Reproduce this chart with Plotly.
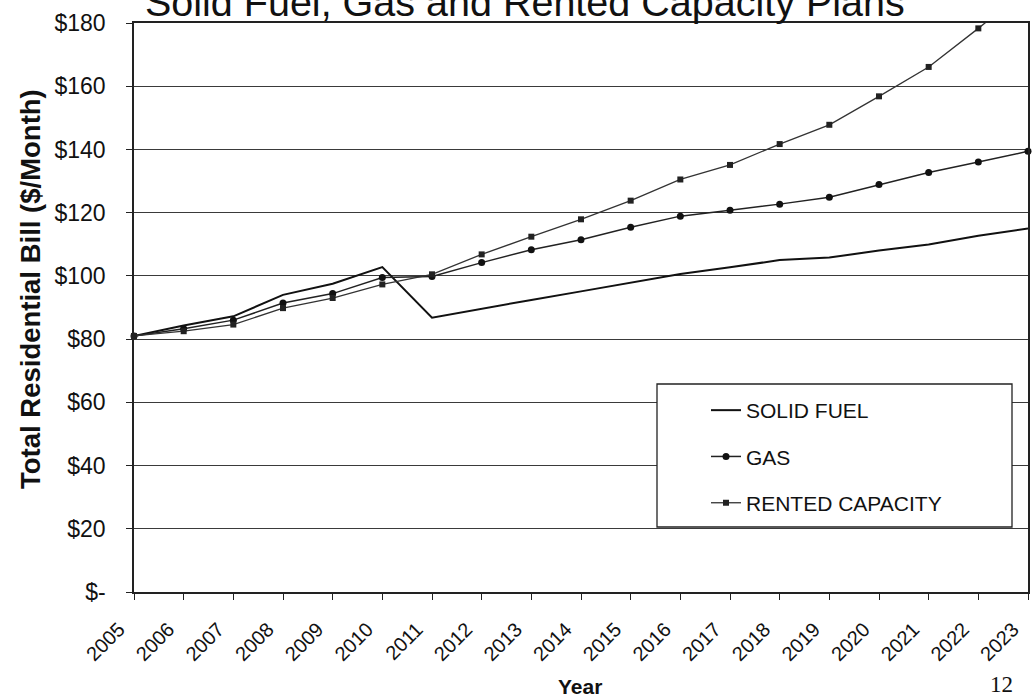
import plotly.graph_objects as go

# ---------------- data ----------------
years = list(range(2005, 2024))
solid_fuel = [81.0, 84.3, 87.2, 94.0, 97.5, 102.8, 86.8, 89.7, 92.4, 95.1,
              97.9, 100.6, 102.7, 105.0, 105.8, 108.0, 109.9, 112.7, 115.0]
gas = [81.0, 83.3, 86.0, 91.4, 94.4, 99.5, 99.8, 104.2, 108.3, 111.4,
       115.4, 118.9, 120.8, 122.7, 124.9, 128.9, 132.7, 136.0, 139.4]
rented_capacity = [81.0, 82.5, 84.6, 89.8, 93.0, 97.3, 100.5, 106.8, 112.4, 117.9,
                   123.8, 130.5, 135.1, 141.7, 147.8, 156.8, 166.1, 178.3, 191.0]
series_names = ["SOLID FUEL", "GAS", "RENTED CAPACITY"]
y_tick_values = [0, 20, 40, 60, 80, 100, 120, 140, 160, 180]
y_tick_labels = ["$-", "$20", "$40", "$60", "$80", "$100", "$120", "$140", "$160", "$180"]
x_tick_labels = [str(y) for y in years]

title_text = "Solid Fuel, Gas and Rented Capacity Plans"
y_title_text = "Total Residential Bill ($/Month)"
x_title_text = "Year"
page_number = "12"

# ---------------- layout geometry ----------------
W_FIG, H_FIG = 1034, 700
M_L, M_R, M_T, M_B = 134, 6, 23, 108
PW = W_FIG - M_L - M_R
PH = H_FIG - M_T - M_B


def px_x(x):
    return (x - M_L) / PW


def px_y(y):
    return (H_FIG - M_B - y) / PH


FONT = "Arial, Liberation Sans, sans-serif"
INK = "#111111"

fig = go.Figure()

fig.add_trace(go.Scatter(
    x=years, y=solid_fuel, name=series_names[0], mode="lines",
    line=dict(color=INK, width=2), legendgroup="a", cliponaxis=False))
fig.add_trace(go.Scatter(
    x=years, y=gas, name=series_names[1], mode="lines+markers",
    line=dict(color="#222222", width=1.5),
    marker=dict(symbol="circle", size=7, color=INK), legendgroup="b", cliponaxis=False))
fig.add_trace(go.Scatter(
    x=years, y=rented_capacity, name=series_names[2], mode="lines+markers",
    line=dict(color="#333333", width=1.3),
    marker=dict(symbol="square", size=6, color="#222222"), legendgroup="c", cliponaxis=False))

# legend frame (white box with border)
fig.add_shape(type="rect", xref="paper", yref="paper",
              x0=px_x(657), x1=px_x(1012), y0=px_y(527), y1=px_y(384),
              fillcolor="white", line=dict(color="#222222", width=1.3), layer="above")

fig.update_layout(
    width=W_FIG, height=H_FIG,
    margin=dict(l=M_L, r=M_R, t=M_T, b=M_B, autoexpand=False),
    paper_bgcolor="white", plot_bgcolor="white",
    font=dict(family=FONT, color=INK),
    showlegend=True,
    legend=dict(
        x=px_x(706), y=px_y(390), xanchor="left", yanchor="top",
        bgcolor="rgba(0,0,0,0)", borderwidth=0,
        font=dict(family=FONT, size=21, color=INK),
        traceorder="grouped", tracegroupgap=16,
    ),
    xaxis=dict(
        range=[2005, 2023], tickmode="array", tickvals=years, ticktext=x_tick_labels,
        tickangle=-45, tickfont=dict(family=FONT, size=20, color=INK),
        ticks="outside", ticklen=6, tickcolor="#222222", tickwidth=1.3,
        showline=True, linecolor="#222222", linewidth=1.5, mirror=True,
        showgrid=False, zeroline=False, ticklabelstandoff=10, ticklabelshift=-15,
    ),
    yaxis=dict(
        range=[0, 180], tickmode="array", tickvals=y_tick_values, ticktext=y_tick_labels,
        tickfont=dict(family=FONT, size=23, color=INK),
        ticks="outside", ticklen=6, tickcolor="#222222", tickwidth=1.3,
        showline=True, linecolor="#222222", linewidth=1.5, mirror=True,
        showgrid=True, gridcolor="#3a3a3a", gridwidth=1.4, zeroline=False,
        ticklabelstandoff=16,
    ),
    annotations=[
        dict(text=title_text, xref="paper", yref="paper", x=px_x(525), y=px_y(2),
             xanchor="center", yanchor="middle", showarrow=False,
             font=dict(family=FONT, size=39.5, color=INK)),
        dict(text="<b>" + y_title_text + "</b>", xref="paper", yref="paper",
             x=px_x(30), y=px_y(289), xanchor="center", yanchor="middle",
             textangle=-90, showarrow=False,
             font=dict(family=FONT, size=27.5, color=INK)),
        dict(text="<b>" + x_title_text + "</b>", xref="paper", yref="paper",
             x=px_x(580), y=px_y(686), xanchor="center", yanchor="middle",
             showarrow=False, font=dict(family=FONT, size=21, color=INK)),
        dict(text=page_number, xref="paper", yref="paper",
             x=px_x(1001), y=px_y(684), xanchor="center", yanchor="middle",
             showarrow=False,
             font=dict(family="Liberation Serif, Times New Roman, serif", size=23, color=INK)),
    ],
)

fig.write_html("out.html", config={"displayModeBar": False},
               post_script="document.body.style.margin='0';")
